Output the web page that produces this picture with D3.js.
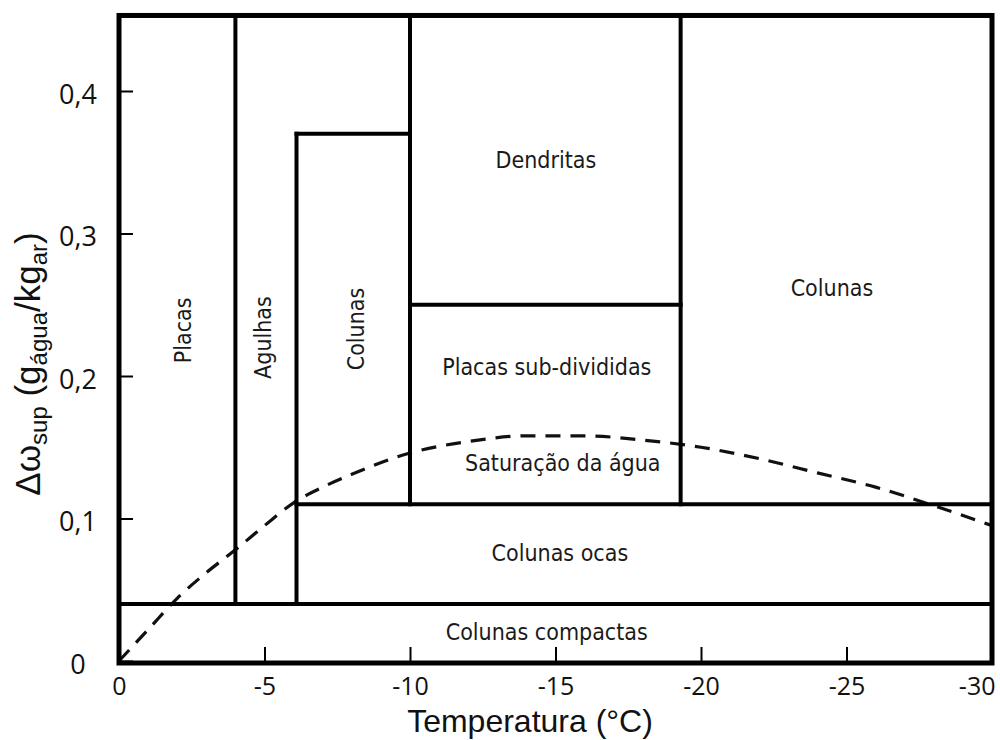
<!DOCTYPE html>
<html>
<head>
<meta charset="utf-8">
<script src="https://cdn.jsdelivr.net/npm/d3@7"></script>
<style>
  html, body { margin: 0; padding: 0; background: #ffffff; }
  svg { display: block; }
</style>
</head>
<body>
<svg id="chart" width="1000" height="740"></svg>
<script>
// Ice crystal habit diagram: supersaturation over ice vs temperature

// Axis ticks
const tempTicks = [0, -5, -10, -15, -20, -25, -30];
const tempTickLabels = ["0", "-5", "-10", "-15", "-20", "-25", "-30"];
const humTicks = [0, 0.1, 0.2, 0.3, 0.4];
const humTickLabels = ["0", "0,1", "0,2", "0,3", "0,4"];

// Plot extent (data units)
const tempRange = [0, -30];
const humMin = 0;
const humMax = 0.453;

// Habit boundaries: vertical segments [temperature, from, to]
const verticalBounds = [
  [-4, 0.04, humMax],
  [-6.1, 0.04, 0.37],
  [-10, 0.11, humMax],
  [-19.3, 0.11, humMax]
];
// Habit boundaries: horizontal segments [humidity, from temp, to temp]
const horizontalBounds = [
  [0.04, 0, -30],
  [0.11, -6.1, -30],
  [0.25, -10, -19.3],
  [0.37, -6.1, -10]
];

// Water saturation curve
const satTemp = [0, -1, -2, -3, -4, -5, -6, -7, -8, -10, -12, -14, -16, -18, -20, -22, -24, -26, -28, -30];
const satValue = [0, 0.022, 0.044, 0.062, 0.078, 0.095, 0.111, 0.122, 0.131, 0.146, 0.154, 0.158, 0.158, 0.155, 0.150, 0.142, 0.132, 0.122, 0.109, 0.095];

// Region names with anchor points in data units
const regionNames = ["Placas", "Agulhas", "Colunas", "Dendritas", "Colunas", "Placas sub-divididas", "Saturação da água", "Colunas ocas", "Colunas compactas"];
const regionTemp = [-2.2, -4.95, -8.15, -14.67, -24.5, -14.7, -15.25, -15.15, -14.7];
const regionValue = [0.232, 0.227, 0.233, 0.3516, 0.262, 0.206, 0.139, 0.0758, 0.0204];
const regionVertical = [true, true, true, false, false, false, false, false, false];

const svg = d3.select("#chart");

const x = d3.scaleLinear().domain(tempRange).range([119, 992]);
const y = d3.scaleLinear().domain([0, 0.4]).range([661, 91]);

const labelFont = "'DejaVu Sans Condensed', 'DejaVu Sans', sans-serif";
const tickFont = "'Open Sans', sans-serif";
const titleFont = "'Liberation Sans', Arial, sans-serif";

// Region labels
const labels = svg.append("g").attr("class", "regions");
regionNames.forEach((name, i) => {
  const px = x(regionTemp[i]), py = y(regionValue[i]);
  labels.append("text")
    .attr("transform", regionVertical[i] ? `translate(${px},${py}) rotate(-90)` : `translate(${px},${py})`)
    .attr("text-anchor", "middle")
    .attr("dominant-baseline", "central")
    .attr("font-family", labelFont)
    .attr("font-size", 23)
    .attr("fill", "#1a1a1a")
    .text(name);
});

// Saturation curve (dashed)
const satLine = d3.line()
  .x(d => x(d[0]))
  .y(d => y(d[1]))
  .curve(d3.curveMonotoneX);
svg.append("path")
  .datum(satTemp.map((t, i) => [t, satValue[i]]))
  .attr("d", satLine)
  .attr("fill", "none")
  .attr("stroke", "#111")
  .attr("stroke-width", 3.2)
  .attr("stroke-dasharray", "15,10");

// Habit boundaries
const bounds = svg.append("g").attr("stroke", "#000").attr("stroke-width", 4).attr("stroke-linecap", "square");
bounds.selectAll("line.v").data(verticalBounds).join("line")
  .attr("class", "v")
  .attr("x1", d => x(d[0])).attr("x2", d => x(d[0]))
  .attr("y1", d => y(d[1])).attr("y2", d => y(d[2]));
bounds.selectAll("line.h").data(horizontalBounds).join("line")
  .attr("class", "h")
  .attr("y1", d => y(d[0])).attr("y2", d => y(d[0]))
  .attr("x1", d => x(d[1])).attr("x2", d => x(d[2]));

// Axes
const yAxis = d3.axisLeft(y)
  .tickValues(humTicks)
  .tickSize(-14)
  .tickPadding(41)
  .tickFormat((d, i) => humTickLabels[i]);
const gy = svg.append("g").attr("transform", `translate(${x(0)},0)`).call(yAxis);
gy.select(".domain").remove();
gy.selectAll(".tick line").attr("stroke", "#000").attr("stroke-width", 2);
gy.selectAll(".tick text")
  .attr("text-anchor", "middle")
  .attr("dy", "0.45em")
  .attr("font-family", tickFont)
  .attr("font-size", 27)
  .attr("fill", "#111");

const xAxis = d3.axisBottom(x)
  .tickValues(tempTicks)
  .tickSize(-14)
  .tickPadding(16)
  .tickFormat((d, i) => tempTickLabels[i]);
const gx = svg.append("g").attr("transform", `translate(0,${y(0)})`).call(xAxis);
gx.select(".domain").remove();
gx.selectAll(".tick line").attr("stroke", "#000").attr("stroke-width", 2);
gx.selectAll(".tick text")
  .attr("font-family", tickFont)
  .attr("font-size", 25)
  .attr("fill", "#111");
gx.selectAll(".tick text").filter(d => d === tempRange[1])
  .attr("text-anchor", "end")
  .attr("x", 3);

// Frame
svg.append("rect")
  .attr("x", x(tempRange[0]))
  .attr("y", y(humMax))
  .attr("width", x(tempRange[1]) - x(tempRange[0]))
  .attr("height", y(humMin) - y(humMax) + 2)
  .attr("fill", "none")
  .attr("stroke", "#000")
  .attr("stroke-width", 5);

// Axis titles
svg.append("text")
  .attr("x", 530)
  .attr("y", 732)
  .attr("text-anchor", "middle")
  .attr("font-family", titleFont)
  .attr("font-size", 32)
  .attr("fill", "#111")
  .text("Temperatura (°C)");

const yTitle = svg.append("text")
  .attr("transform", "translate(40,364) rotate(-90)")
  .attr("text-anchor", "middle")
  .attr("font-family", titleFont)
  .attr("font-size", 35)
  .attr("fill", "#111");
yTitle.append("tspan").text("Δω");
yTitle.append("tspan").attr("font-size", 24).attr("dy", 7).text("sup");
yTitle.append("tspan").attr("dy", -7).text(" (g");
yTitle.append("tspan").attr("font-size", 24).attr("dy", 7).text("água");
yTitle.append("tspan").attr("dy", -7).text("/kg");
yTitle.append("tspan").attr("font-size", 24).attr("dy", 7).text("ar");
yTitle.append("tspan").attr("dy", -7).text(")");
</script>
</body>
</html>
